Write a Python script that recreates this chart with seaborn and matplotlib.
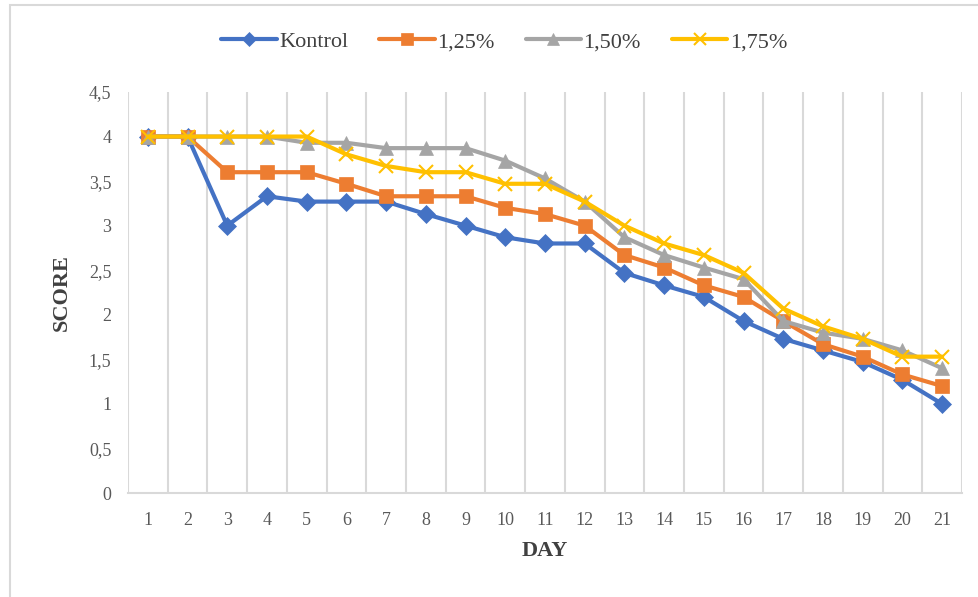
import numpy as np
import pandas as pd
import matplotlib
matplotlib.use("Agg")
import matplotlib.pyplot as plt
import seaborn as sns
from matplotlib.ticker import FuncFormatter, FixedLocator
import matplotlib.patches as mpatches

# --- Data ---
days = list(range(1, 22))
kontrol = [4.0, 4.0, 3.0, 3.33, 3.27, 3.27, 3.27, 3.13, 3.0, 2.87, 2.8,
           2.8, 2.47, 2.33, 2.2, 1.93, 1.73, 1.6, 1.47, 1.27, 1.0]
p125 = [4.0, 4.0, 3.6, 3.6, 3.6, 3.47, 3.33, 3.33, 3.33, 3.2, 3.13,
        3.0, 2.67, 2.53, 2.33, 2.2, 1.93, 1.67, 1.53, 1.33, 1.2]
p150 = [4.0, 4.0, 4.0, 4.0, 3.93, 3.93, 3.87, 3.87, 3.87, 3.73, 3.53,
        3.27, 2.87, 2.67, 2.53, 2.4, 1.93, 1.8, 1.73, 1.6, 1.4]
p175 = [4.0, 4.0, 4.0, 4.0, 4.0, 3.8, 3.67, 3.6, 3.6, 3.47, 3.47,
        3.27, 3.0, 2.8, 2.67, 2.47, 2.07, 1.87, 1.73, 1.53, 1.53]
series_names = ["Kontrol", "1,25%", "1,50%", "1,75%"]
series_values = [kontrol, p125, p150, p175]
colors = ["#4472C4", "#ED7D31", "#A5A5A5", "#FFC000"]
markers = ["D", "s", "^", "x"]

df = pd.DataFrame({
    "pos": np.tile(np.arange(len(days)), len(series_names)),
    "score": np.concatenate(series_values),
    "series": np.repeat(series_names, len(days)),
})

sns.set_style("white")
plt.rcParams['font.family'] = ['Liberation Serif', 'DejaVu Serif']

fig = plt.figure(figsize=(9.79, 5.97), dpi=100)
ax = fig.add_axes([0.1307, 0.1742, 0.8519, 0.6717])

sizes = {"D": 9.5, "s": 10.5, "^": 10.5, "x": 10.5}
for name, col, mk in zip(series_names, colors, markers):
    sub = df[df["series"] == name]
    sns.lineplot(data=sub, x="pos", y="score", ax=ax, color=col, marker=mk,
                 markersize=sizes[mk], linewidth=3, markeredgecolor=col,
                 markeredgewidth=1.5 if mk == "x" else 0.5, label=name)

ax.set_xlim(-0.5, len(days) - 0.5)
ax.set_ylim(0, 4.5)
ax.set_xticks(np.arange(len(days)))
ax.set_xticklabels([str(d) for d in days])
ax.set_yticks(np.arange(0, 4.51, 0.5))
ax.yaxis.set_major_formatter(FuncFormatter(lambda v, p: f"{v:g}".replace(".", ",")))
ax.xaxis.set_minor_locator(FixedLocator(np.arange(-0.5, len(days), 1.0)))
ax.grid(False)
ax.grid(True, which="minor", axis="x", color="#D9D9D9", linewidth=1.5)
ax.tick_params(axis="both", which="both", length=0, labelsize=13, labelcolor="#595959")
ax.tick_params(axis="x", pad=14)
ax.tick_params(axis="y", pad=12)
for s in ["top", "right", "left"]:
    ax.spines[s].set_visible(False)
ax.spines["bottom"].set_color("#D9D9D9")
ax.spines["bottom"].set_linewidth(1.5)

ax.set_xlabel("DAY", fontsize=16, fontweight="bold", color="#404040", labelpad=8)
ax.set_ylabel("SCORE", fontsize=16, fontweight="bold", color="#404040", labelpad=12)

leg = ax.legend(loc="center", bbox_to_anchor=(0.515, 0.93), bbox_transform=fig.transFigure,
                ncol=4, frameon=False, fontsize=16, handlelength=2.5, handletextpad=0.1,
                columnspacing=1.4, labelcolor="#404040", markerscale=0.8)

# chart border
fig.patches.append(mpatches.Rectangle((10 / 979, -0.01), 1.0, 1 - 5 / 597 + 0.01,
                                      transform=fig.transFigure, fill=False,
                                      edgecolor="#D9D9D9", linewidth=1.5))

fig.savefig("out.png", dpi=100)
